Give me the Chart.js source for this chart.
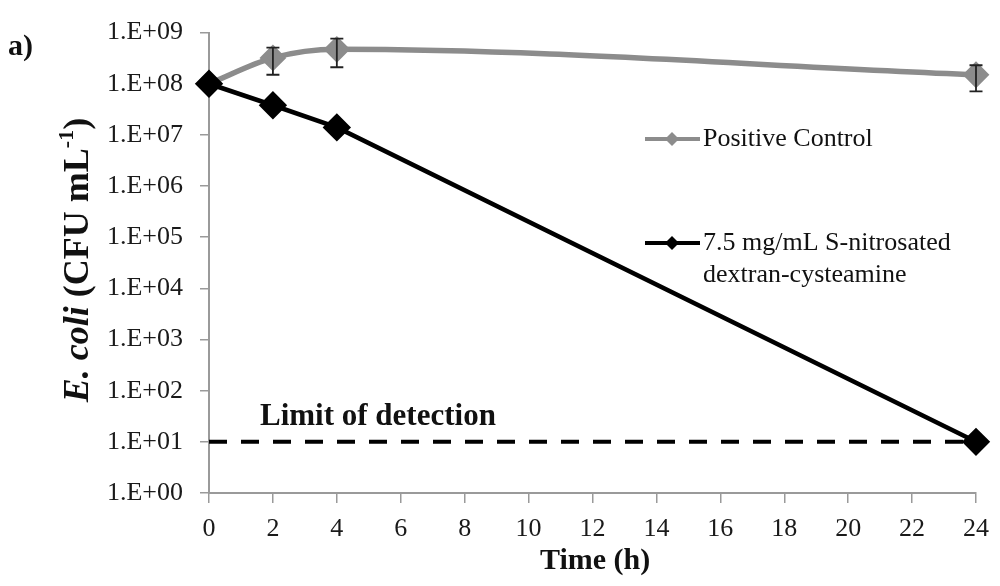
<!DOCTYPE html>
<html>
<head>
<meta charset="utf-8">
<script src="https://cdn.jsdelivr.net/npm/chart.js@4"></script>
<style>
html, body { margin: 0; padding: 0; background: #fff; }
#wrap { width: 1000px; height: 586px; }
</style>
</head>
<body>
<div id="wrap"><canvas id="chart" width="1000" height="586"></canvas></div>
<script>
// values (CFU/mL)
const times = [0, 2, 4, 24];
const controlCfu = [1.0e8, 3.2e8, 4.7e8, 1.5e8];
const controlHigh = [1.0e8, 5.1e8, 7.6e8, 2.3e8];
const controlLow = [1.0e8, 1.5e8, 2.1e8, 7.1e7];
const treatedCfu = [1.0e8, 3.8e7, 1.4e7, 1.0e1];
const lodTimes = [0, 24];
const lodCfu = [10, 10];

const yTicks = [1e0, 1e1, 1e2, 1e3, 1e4, 1e5, 1e6, 1e7, 1e8, 1e9];
const yTickLabels = ['1.E+00', '1.E+01', '1.E+02', '1.E+03', '1.E+04', '1.E+05', '1.E+06', '1.E+07', '1.E+08', '1.E+09'];
const xTicks = [0, 2, 4, 6, 8, 10, 12, 14, 16, 18, 20, 22, 24];

const serif = '"Liberation Serif", "Times New Roman", serif';
const gray = '#8c8c8c';
const axisGray = '#9a9a9a';

const toPoints = (xs, ys) => xs.map((x, i) => ({ x: x, y: ys[i] }));

// error bars on the control series
const errorBars = {
    id: 'errorBars',
    afterDatasetsDraw(chart) {
        const { ctx, scales } = chart;
        ctx.save();
        ctx.strokeStyle = '#222';
        ctx.lineWidth = 1.8;
        times.forEach((t, i) => {
            if (controlHigh[i] === controlLow[i]) return;
            const x = scales.x.getPixelForValue(t);
            const yh = scales.y.getPixelForValue(controlHigh[i]);
            const yl = scales.y.getPixelForValue(controlLow[i]);
            ctx.beginPath();
            ctx.moveTo(x, yh); ctx.lineTo(x, yl);
            ctx.moveTo(x - 6.5, yh); ctx.lineTo(x + 6.5, yh);
            ctx.moveTo(x - 6.5, yl); ctx.lineTo(x + 6.5, yl);
            ctx.stroke();
        });
        ctx.restore();
    }
};

// titles, annotation, legend
const labels = {
    id: 'labels',
    afterDraw(chart) {
        const ctx = chart.ctx;
        ctx.save();
        ctx.fillStyle = '#111';
        ctx.textBaseline = 'middle';

        ctx.font = 'bold 30px ' + serif;
        ctx.textAlign = 'left';
        ctx.fillText('a)', 8, 47);
        ctx.fillText('Time (h)', 540, 561);
        ctx.font = 'bold 31px ' + serif;
        ctx.fillText('Limit of detection', 260, 417);

        // y title, rotated
        const parts = [
            { t: 'E. coli', f: 'italic bold 36px ' + serif, dy: 0 },
            { t: ' (CFU mL', f: 'bold 36px ' + serif, dy: 0 },
            { t: '-1', f: 'bold 22px ' + serif, dy: -12 },
            { t: ')', f: 'bold 36px ' + serif, dy: 0 }
        ];
        let total = 0;
        parts.forEach(p => { ctx.font = p.f; p.w = ctx.measureText(p.t).width; total += p.w; });
        ctx.translate(79, 260);
        ctx.rotate(-Math.PI / 2);
        ctx.textAlign = 'left';
        let px = -total / 2;
        parts.forEach(p => { ctx.font = p.f; ctx.fillText(p.t, px, p.dy); px += p.w; });
        ctx.setTransform(1, 0, 0, 1, 0, 0);

        // legend
        const entry = (y, color, lw, r, lines) => {
            ctx.strokeStyle = color;
            ctx.lineWidth = lw;
            ctx.beginPath();
            ctx.moveTo(645, y); ctx.lineTo(700, y);
            ctx.stroke();
            ctx.fillStyle = color;
            ctx.beginPath();
            ctx.moveTo(672, y - r); ctx.lineTo(672 + r, y); ctx.lineTo(672, y + r); ctx.lineTo(672 - r, y);
            ctx.closePath();
            ctx.fill();
            ctx.fillStyle = '#111';
            ctx.font = '26px ' + serif;
            ctx.textAlign = 'left';
            lines.forEach((s, k) => ctx.fillText(s, 703, y + k * 32));
        };
        entry(139, gray, 4, 7, ['Positive Control']);
        entry(243, '#000', 4, 7, ['7.5 mg/mL S-nitrosated', 'dextran-cysteamine']);
        ctx.restore();
    }
};

new Chart(document.getElementById('chart').getContext('2d'), {
    type: 'line',
    data: {
        datasets: [
            {
                label: '7.5 mg/mL S-nitrosated dextran-cysteamine',
                data: toPoints(times, treatedCfu),
                borderColor: '#000',
                backgroundColor: '#000',
                borderWidth: 4.5,
                pointStyle: 'rectRot',
                pointRadius: 11,
                tension: 0,
                clip: false,
                order: 0
            },
            {
                label: 'Positive Control',
                data: toPoints(times, controlCfu),
                borderColor: gray,
                backgroundColor: gray,
                borderWidth: 5.5,
                pointStyle: 'rectRot',
                pointRadius: 9.5,
                cubicInterpolationMode: 'monotone',
                clip: false,
                order: 1
            },
            {
                label: 'Limit of detection',
                data: toPoints(lodTimes, lodCfu),
                borderColor: '#000',
                borderWidth: 4,
                borderDash: [18, 14],
                pointRadius: 0,
                clip: false,
                order: 2
            }
        ]
    },
    options: {
        responsive: false,
        animation: false,
        devicePixelRatio: 1,
        layout: { padding: { top: 22, right: 20, left: 0, bottom: 0 } },
        plugins: {
            legend: { display: false },
            tooltip: { enabled: false }
        },
        scales: {
            x: {
                type: 'linear',
                min: 0,
                max: 24,
                afterBuildTicks: s => { s.ticks = xTicks.map(v => ({ value: v })); },
                afterFit: s => { s.height = 93; },
                grid: { drawOnChartArea: false, tickLength: 10, color: axisGray, lineWidth: 1.5 },
                border: { color: axisGray, width: 2 },
                ticks: { autoSkip: false, maxRotation: 0, padding: 11, color: '#1a1a1a', font: { family: serif, size: 26 } }
            },
            y: {
                type: 'logarithmic',
                min: 1,
                max: 1e9,
                afterBuildTicks: s => { s.ticks = yTicks.map(v => ({ value: v })); },
                afterFit: s => { s.width = 209; },
                grid: { drawOnChartArea: false, tickLength: 9, color: axisGray, lineWidth: 1.5 },
                border: { color: axisGray, width: 2 },
                ticks: {
                    autoSkip: false,
                    padding: 17,
                    color: '#1a1a1a',
                    font: { family: serif, size: 26 },
                    callback: v => yTickLabels[Math.round(Math.log10(v))]
                }
            }
        }
    },
    plugins: [errorBars, labels]
});
</script>
</body>
</html>
